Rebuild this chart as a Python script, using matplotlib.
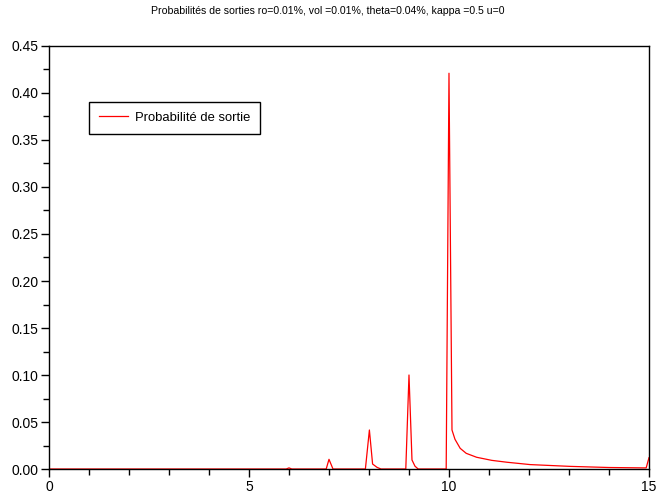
import matplotlib
matplotlib.use("Agg")
import matplotlib.pyplot as plt
from matplotlib.ticker import MultipleLocator, FormatStrFormatter

plt.rcParams['font.family'] = ['Liberation Sans', 'DejaVu Sans']

# valeurs
x_vals = [0.0, 5.93, 6.0, 6.07, 6.93, 7.0, 7.1, 7.91, 8.01, 8.09, 8.2, 8.3,
          8.92, 9.0, 9.075, 9.15, 9.23, 9.93, 10.0, 10.075, 10.15, 10.28,
          10.43, 10.69, 11.07, 11.45, 12.03, 13.03, 14.0, 14.85, 14.93, 15.0]
p_sortie = [0.0, 0.0, 0.0012, 0.0, 0.0, 0.0103, 0.0, 0.0, 0.0415, 0.0053, 0.0018, 0.0,
            0.0, 0.1, 0.0096, 0.003, 0.0, 0.0, 0.421, 0.0415, 0.0316, 0.022,
            0.0167, 0.0125, 0.0092, 0.0072, 0.0047, 0.0028, 0.0016, 0.0012, 0.0012, 0.012]

titre = "Probabilités de sorties ro=0.01%, vol =0.01%, theta=0.04%, kappa =0.5 u=0"

fig = plt.figure(figsize=(6.56, 4.95), dpi=100)
ax = fig.add_axes([0.0747, 0.0525, 0.9146, 0.8546])

ax.plot(x_vals, p_sortie, color='red', lw=0.9, label='Probabilité de sortie')

ax.set_xlim(0, 15)
ax.set_ylim(0, 0.45)
ax.xaxis.set_major_locator(MultipleLocator(5))
ax.xaxis.set_minor_locator(MultipleLocator(1))
ax.yaxis.set_major_locator(MultipleLocator(0.05))
ax.yaxis.set_minor_locator(MultipleLocator(0.025))
ax.yaxis.set_major_formatter(FormatStrFormatter('%.2f'))
ax.tick_params(which='both', direction='out', top=False, right=False, labelsize=10, width=1)
ax.tick_params(which='major', length=5.8)
ax.tick_params(which='minor', length=4.3)
ax.tick_params(axis='x', which='major', pad=2)
ax.tick_params(axis='y', which='major', pad=1.5)
for s in ax.spines.values():
    s.set_linewidth(1)

leg = ax.legend(loc='upper left', bbox_to_anchor=(0.0667, 0.868), borderaxespad=0,
                fancybox=False, framealpha=1, edgecolor='black', fontsize=9.4,
                handlelength=2.2, handletextpad=0.55, borderpad=0.75)
leg.get_frame().set_linewidth(1)

fig.text(0.5, 0.978, titre, ha='center', va='center', fontsize=7.55)

fig.savefig('out.png', dpi=100)
